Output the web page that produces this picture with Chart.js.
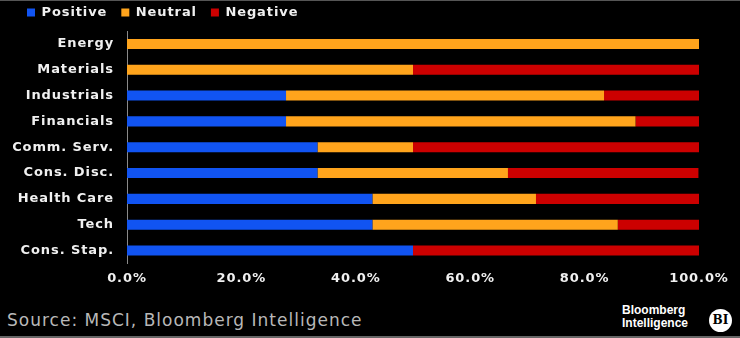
<!DOCTYPE html>
<html>
<head>
<meta charset="utf-8">
<script src="https://cdn.jsdelivr.net/npm/chart.js@4"></script>
<style>
  html, body { margin: 0; padding: 0; background: #000; }
  body { width: 740px; height: 338px; position: relative; overflow: hidden; }
  .frame-top { position: absolute; left: 0; top: 0; width: 740px; height: 1px; background: #555; }
  .frame-bottom { position: absolute; left: 0; top: 336px; width: 740px; height: 2px; background: #666; }
  .wrap { position: absolute; left: 0; top: 0; width: 740px; height: 293px; }
  .source { position: absolute; left: 7px; top: 310px; color: #b8b8b8; font: 17px "DejaVu Sans", sans-serif; letter-spacing: 1px; }
  .logo { position: absolute; left: 622px; top: 304px; color: #fff; font: bold 12px "Liberation Sans", Arial, sans-serif; line-height: 13px; }
  .bi { position: absolute; left: 709px; top: 309px; width: 23px; height: 23px; border-radius: 50%; background: #fff; color: #000; font: bold 12px "DejaVu Serif", serif; text-align: center; line-height: 23px; }
</style>
</head>
<body>
<div class="frame-top"></div>
<div class="wrap"><canvas id="sectorChart"></canvas></div>
<div class="source">Source: MSCI, Bloomberg Intelligence</div>
<div class="logo">Bloomberg<br>Intelligence</div>
<div class="bi">BI</div>
<div class="frame-bottom"></div>
<script>
const sectors = ["Energy", "Materials", "Industrials", "Financials", "Comm. Serv.", "Cons. Disc.", "Health Care", "Tech", "Cons. Stap."];
const positive = [0, 0, 27.8, 27.8, 33.3, 33.3, 42.9, 42.9, 50];
const neutral = [100, 50, 55.6, 61.1, 16.7, 33.3, 28.6, 42.9, 0];
const negative = [0, 50, 16.7, 11.1, 50, 33.3, 28.6, 14.3, 50];
const xTicks = [0, 20, 40, 60, 80, 100];

// wider bold text like the original
const spacing = {
  id: "spacing",
  beforeUpdate(chart) { chart.ctx.letterSpacing = "0.9px"; },
  beforeDraw(chart) { chart.ctx.letterSpacing = "0.9px"; }
};

const legendGap = {
  id: "legendGap",
  beforeInit(chart) {
    const fit = chart.legend.fit;
    chart.legend.fit = function () {
      fit.bind(chart.legend)();
      this.height += 2;
    };
  }
};

const font = { family: "DejaVu Sans", size: 13, weight: "bold" };

const ctx = document.getElementById("sectorChart").getContext("2d");
new Chart(ctx, {
  type: "bar",
  data: {
    labels: sectors,
    datasets: [
      { label: "Positive", data: positive, backgroundColor: "#1154f2" },
      { label: "Neutral", data: neutral, backgroundColor: "#ffa41c" },
      { label: "Negative", data: negative, backgroundColor: "#cc0000" }
    ]
  },
  options: {
    indexAxis: "y",
    responsive: true,
    maintainAspectRatio: false,
    animation: false,
    categoryPercentage: 0.39,
    barPercentage: 1,
    layout: { padding: { left: 13, right: 41, top: -8, bottom: 0 } },
    scales: {
      x: {
        stacked: true,
        min: 0,
        max: 100,
        afterBuildTicks: (scale) => { scale.ticks = xTicks.map((v) => ({ value: v })); },
        ticks: {
          color: "#f0f0f0",
          padding: 7,
          font,
          callback: (v) => v.toFixed(1) + "%"
        },
        grid: { display: false, drawTicks: false },
        border: { display: false }
      },
      y: {
        stacked: true,
        afterFit: (scale) => { scale.width = 114; },
        ticks: {
          color: "#f0f0f0",
          padding: 13,
          font
        },
        grid: { display: false, drawTicks: false },
        border: { display: true, color: "#8a8a8a", width: 1 }
      }
    },
    plugins: {
      legend: {
        position: "top",
        align: "start",
        labels: {
          color: "#f0f0f0",
          boxWidth: 8,
          boxHeight: 8,
          padding: 14,
          font
        }
      },
      tooltip: { enabled: false }
    }
  },
  plugins: [spacing, legendGap]
});
</script>
</body>
</html>
